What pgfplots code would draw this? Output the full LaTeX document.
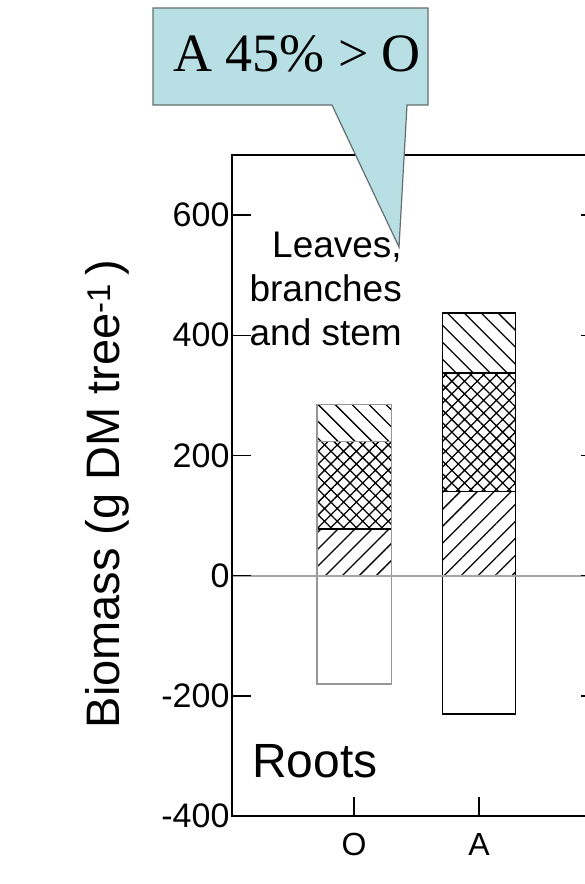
\documentclass[border=0pt]{standalone}
\usepackage{fontspec}
\setmainfont{Liberation Sans}
\newfontfamily\timesfont{Liberation Serif}
\usepackage{pgfplots}
\pgfplotsset{compat=1.18}
\usetikzlibrary{patterns.meta}

\definecolor{calloutfill}{RGB}{184,223,228}
\definecolor{calloutedge}{RGB}{100,110,112}
\definecolor{barO}{RGB}{150,150,150}
\definecolor{zeroline}{RGB}{165,165,165}

\begin{document}
\begin{tikzpicture}[x=1pt,y=1pt]
\useasboundingbox (0,0) rectangle (584,884);
\begin{axis}[
  at={(232pt,68pt)}, anchor=south west,
  scale only axis, width=368pt, height=661pt,
  xmin=0.024, xmax=2.968, ymin=-400, ymax=700,
  xtick={1,2}, xticklabels={O,A},
  ytick={-400,-200,0,200,400,600},
  yticklabels={-400,-200,0,200,400,600},
  xtick pos=left, ytick pos=both, yticklabel pos=left,
  tick align=inside, major tick length=19pt,
  axis line style={line width=1.5pt},
  every tick/.style={line width=1.5pt, black},
  axis on top,
  /pgf/number format/assume math mode=true,
  xticklabel style={font=\fontsize{32}{38}\selectfont, yshift=-14pt},
  yticklabel style={font=\fontsize{34}{40}\selectfont, xshift=1pt},
  ylabel={Biomass (g DM tree\textsuperscript{-1}\,)},
  every axis y label/.style={at={(rel axis cs:0,0.487)}, xshift=-125pt, rotate=90, anchor=center, font=\fontsize{47}{53}\selectfont},
  clip=false,
]
% --- O bars (overlaid cumulative totals) ---
\addplot[ybar, bar width=0.596, bar shift=0pt, draw=barO, line width=1.5pt,
  preaction={fill=white}, pattern={Lines[angle=-45,distance=12pt,line width=1.3pt]}]
  coordinates {(1,285)};
\addplot[ybar, bar width=0.596, bar shift=0pt, draw=barO, line width=1.5pt,
  preaction={fill=white}, pattern={Hatch[angle=45,distance=9pt,line width=1.3pt]}]
  coordinates {(1,223)};
\addplot[ybar, bar width=0.596, bar shift=0pt, draw=barO, line width=1.5pt,
  preaction={fill=white}, pattern={Lines[angle=45,distance=12pt,line width=1.3pt]}]
  coordinates {(1,78)};
\addplot[black, line width=1.5pt, mark=none] coordinates {(0.708,78) (1.292,78)};
\addplot[ybar, bar width=0.596, bar shift=0pt, draw=barO, line width=1.5pt, fill=white]
  coordinates {(1,-180)};
% --- A bars ---
\addplot[ybar, bar width=0.584, bar shift=0pt, draw=black, line width=1.5pt,
  preaction={fill=white}, pattern={Lines[angle=-45,distance=12pt,line width=1.3pt]}]
  coordinates {(2,437)};
\addplot[ybar, bar width=0.584, bar shift=0pt, draw=black, line width=1.5pt,
  preaction={fill=white}, pattern={Hatch[angle=45,distance=9pt,line width=1.3pt]}]
  coordinates {(2,337)};
\addplot[ybar, bar width=0.584, bar shift=0pt, draw=black, line width=1.5pt,
  preaction={fill=white}, pattern={Lines[angle=45,distance=12pt,line width=1.3pt]}]
  coordinates {(2,140)};
\addplot[ybar, bar width=0.584, bar shift=0pt, draw=black, line width=1.5pt, fill=white]
  coordinates {(2,-230)};
% --- zero line ---
\addplot[zeroline, line width=2pt, mark=none] coordinates {(0.024,0) (2.968,0)};
\end{axis}
% callout
\filldraw[fill=calloutfill, draw=calloutedge, line width=1.2pt, line join=miter]
  (153,876) -- (428,876) -- (428,779) -- (407,779) -- (399,637) -- (332,779) -- (153,779) -- cycle;
\node[font=\timesfont\fontsize{54}{60}\selectfont, anchor=base, inner sep=0pt] at (297,812) {A 45\% > O};
% annotations
\node[font=\fontsize{37}{44}\selectfont, anchor=base east, inner sep=0pt] at (402,626) {Leaves,};
\node[font=\fontsize{37}{44}\selectfont, anchor=base east, inner sep=0pt] at (402,582) {branches};
\node[font=\fontsize{37}{44}\selectfont, anchor=base east, inner sep=0pt] at (402,538) {and stem};
\node[font=\fontsize{48}{54}\selectfont, anchor=base west, inner sep=0pt] at (252,106) {Roots};
\end{tikzpicture}
\end{document}
